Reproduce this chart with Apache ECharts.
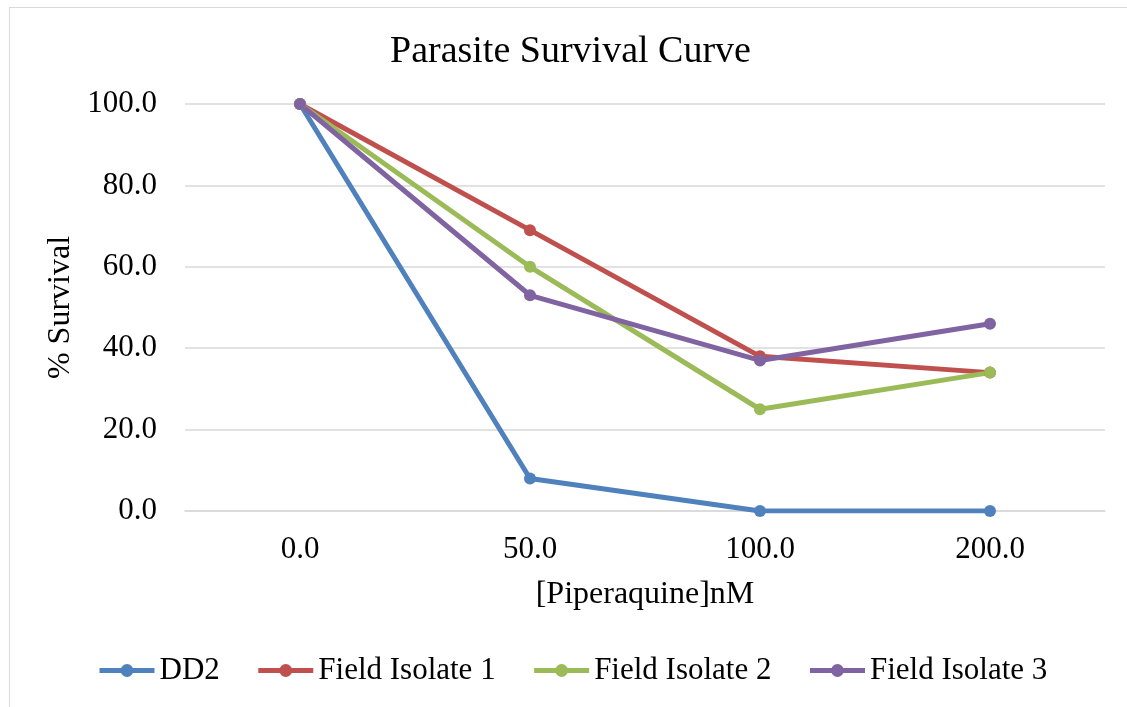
<!DOCTYPE html>
<html>
<head>
<meta charset="utf-8">
<script src="https://cdn.jsdelivr.net/npm/echarts@6/dist/echarts.min.js"></script>
<style>
html,body{margin:0;padding:0;background:#fff;overflow:hidden;}
#chart{position:absolute;left:0;top:0;width:1127px;height:707px;}
#frame{position:absolute;left:9px;top:7px;width:1200px;height:800px;border-left:1px solid #d9d9d9;border-top:1px solid #d9d9d9;pointer-events:none;}
</style>
</head>
<body>
<div id="chart"></div>
<div id="frame"></div>
<script>
const categories = ['0.0', '50.0', '100.0', '200.0'];
const dd2 = [100, 8, 0, 0];
const fieldIsolate1 = [100, 69, 38, 34];
const fieldIsolate2 = [100, 60, 25, 34];
const fieldIsolate3 = [100, 53, 37, 46];
const seriesNames = ['DD2', 'Field Isolate 1', 'Field Isolate 2', 'Field Isolate 3'];
const colors = ['#4F81BD', '#C0504D', '#9BBB59', '#8064A2'];

const font = 'Liberation Serif, Times New Roman, serif';
const chart = echarts.init(document.getElementById('chart'));
const dataSets = [dd2, fieldIsolate1, fieldIsolate2, fieldIsolate3];
chart.setOption({
  animation: false,
  color: colors,
  title: {
    text: 'Parasite Survival Curve',
    left: 385, top: 28,
    textStyle: {fontFamily: font, fontSize: 38, fontWeight: 'normal', color: '#000'}
  },
  legend: {
    left: 92, top: 650,
    itemWidth: 55, itemHeight: 16, itemGap: 36,
    lineStyle: {width: 5},
    textStyle: {fontFamily: font, fontSize: 31, color: '#000'},
    data: seriesNames
  },
  grid: {left: 185, right: 22, top: 104, bottom: 196},
  xAxis: {
    type: 'category',
    data: categories,
    boundaryGap: true,
    name: '[Piperaquine]nM',
    nameLocation: 'middle',
    nameGap: 68,
    nameTextStyle: {fontFamily: font, fontSize: 32, color: '#000'},
    axisLine: {lineStyle: {color: '#d9d9d9', width: 1.5}},
    axisTick: {show: false},
    axisLabel: {fontFamily: font, fontSize: 31, color: '#000', margin: 23}
  },
  yAxis: {
    type: 'value',
    min: 0, max: 100, interval: 20,
    name: '% Survival',
    nameLocation: 'middle',
    nameRotate: 90,
    nameGap: 108,
    nameTextStyle: {fontFamily: font, fontSize: 32, color: '#000'},
    axisLine: {show: false},
    axisTick: {show: false},
    splitLine: {lineStyle: {color: '#d9d9d9', width: 1.5}},
    axisLabel: {fontFamily: font, fontSize: 31, color: '#000', margin: 28,
      formatter: v => v.toFixed(1)}
  },
  series: seriesNames.map((n, i) => ({
    name: n,
    type: 'line',
    data: dataSets[i],
    symbol: 'circle',
    symbolSize: 12,
    lineStyle: {width: 5, color: colors[i]},
    itemStyle: {color: colors[i]}
  }))
});
</script>
</body>
</html>
